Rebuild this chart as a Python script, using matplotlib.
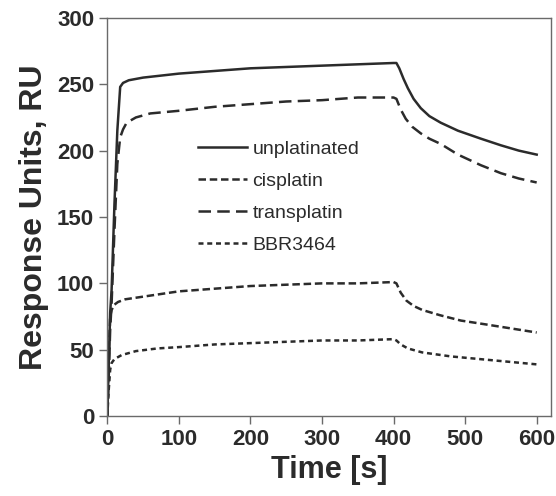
import numpy as np
import matplotlib.pyplot as plt

plt.rcParams['font.family'] = ['Liberation Sans', 'DejaVu Sans']

# sampled from the sensorgram (time in s, response in RU)
t_unpl = [0, 2, 4, 6, 10, 14, 18, 22, 30, 50, 100, 150, 200, 250, 300, 350, 400, 404, 408, 414, 420, 428, 438, 450, 466, 490, 522, 550, 575, 600]
ru_unpl = [0, 40, 78, 95, 160, 215, 248, 251, 253, 255, 258, 260, 262, 263, 264, 265, 266, 266, 262, 254, 247, 239, 232, 226, 221, 215, 209, 204, 200, 197]

t_trans = [0, 2, 4, 6, 10, 14, 18, 22, 27, 40, 60, 100, 150, 200, 250, 300, 350, 400, 404, 410, 417, 426, 438, 450, 466, 490, 522, 550, 575, 600]
ru_trans = [0, 30, 65, 85, 140, 190, 210, 216, 221, 225, 228, 230, 233, 235, 237, 238, 240, 240, 239, 231, 224, 218, 213, 209, 205, 197, 189, 183, 179, 176]

t_cis = [0, 2, 4, 6, 10, 15, 25, 50, 100, 150, 200, 250, 300, 350, 400, 404, 410, 418, 428, 440, 465, 494, 530, 565, 600]
ru_cis = [0, 40, 75, 80, 84, 86, 88, 90, 94, 96, 98, 99, 100, 100, 101, 100, 93, 87, 83, 80, 76, 72, 69, 66, 63]

t_bbr = [0, 2, 4, 6, 10, 20, 40, 70, 100, 150, 200, 250, 300, 350, 400, 404, 410, 420, 440, 480, 520, 560, 600]
ru_bbr = [0, 20, 35, 40, 43, 46, 49, 51, 52, 54, 55, 56, 57, 57, 58, 57, 54, 51, 48, 45, 43, 41, 39]

labels = ["unplatinated", "cisplatin", "transplatin", "BBR3464"]

ink = "#2b2b2b"
frame = "#6a6a6a"

fig, ax = plt.subplots(figsize=(5.56, 4.96), dpi=100)
fig.subplots_adjust(left=0.193, right=0.991, top=0.964, bottom=0.161)

h1, = ax.plot(t_unpl, ru_unpl, color=ink, lw=1.8, ls="-")
h2, = ax.plot(t_cis, ru_cis, color=ink, lw=1.8, ls=(0, (3, 1.5)))
h3, = ax.plot(t_trans, ru_trans, color=ink, lw=1.8, ls=(0, (5, 2.5)))
h4, = ax.plot(t_bbr, ru_bbr, color=ink, lw=1.8, ls=(0, (2, 1.5)))

ax.set_xlim(0, 620)
ax.set_ylim(0, 300)
ax.set_xticks(np.arange(0, 601, 100))
ax.set_yticks(np.arange(0, 301, 50))

for s in ax.spines.values():
    s.set_color(frame)
    s.set_linewidth(1.0)
ax.tick_params(direction="out", length=6, width=1, color=frame, labelcolor=ink, labelsize=16)
for lab in ax.get_xticklabels() + ax.get_yticklabels():
    lab.set_fontweight("bold")

ax.set_xlabel("Time [s]", fontsize=22, fontweight="bold", color=ink, labelpad=3)
ax.set_ylabel("Response Units, RU", fontsize=23, fontweight="bold", color=ink, labelpad=6)

ax.legend([h1, h2, h3, h4], labels, loc="upper left", bbox_to_anchor=(0.165, 0.737),
          frameon=False, fontsize=14, handlelength=2.5, handletextpad=0.3,
          labelspacing=0.75, labelcolor=ink)

fig.savefig("out.png", dpi=100)
